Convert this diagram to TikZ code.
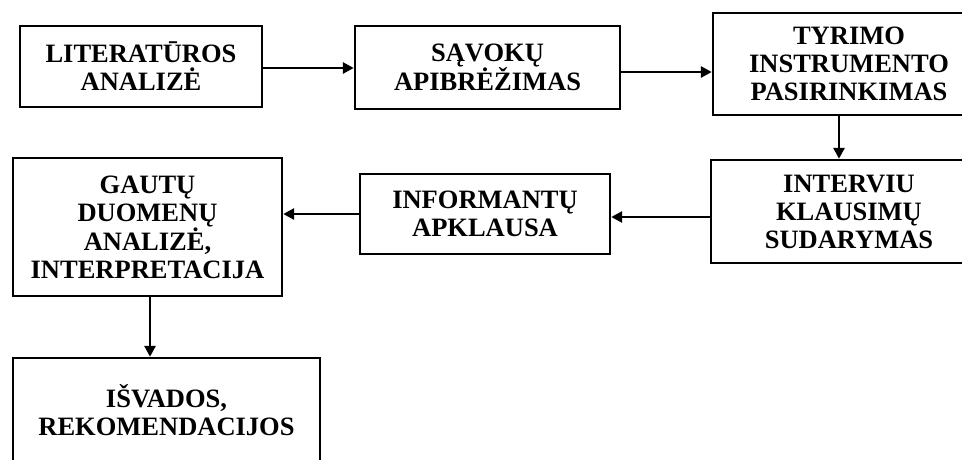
\documentclass[tikz,border=0pt]{standalone}
\usepackage{fontspec}
\setmainfont{Liberation Serif}
\usetikzlibrary{arrows.meta}
\begin{document}
\begin{tikzpicture}[x=1pt,y=-1pt,
  stagebox/.style={draw=black,line width=2.4pt,fill=white,inner sep=0pt,align=center,
    font=\bfseries\fontsize{26.5}{28}\selectfont},
  arr/.style={line width=2.8pt,-{Triangle[length=11pt,width=11pt]}}]
\useasboundingbox (0,0) rectangle (962,459);
\node[stagebox,minimum width=242pt,minimum height=81pt] (b1) at (141,66.5) {LITERATŪROS\\ANALIZĖ};
\node[stagebox,minimum width=265pt,minimum height=83pt] (b2) at (487.5,67.5) {SĄVOKŲ\\APIBRĖŽIMAS};
\node[stagebox,minimum width=272pt,minimum height=102pt] (b3) at (849,64) {TYRIMO\\INSTRUMENTO\\PASIRINKIMAS};
\node[stagebox,minimum width=276pt,minimum height=103pt] (b4) at (849,211.5) {INTERVIU\\KLAUSIMŲ\\SUDARYMAS};
\node[stagebox,minimum width=250pt,minimum height=80pt] (b5) at (485,214) {INFORMANTŲ\\APKLAUSA};
\node[stagebox,minimum width=269pt,minimum height=138pt] (b6) at (147.5,227) {GAUTŲ\\DUOMENŲ\\ANALIZĖ,\\INTERPRETACIJA};
\node[stagebox,minimum width=307pt,minimum height=104pt] (b7) at (166.5,410) {IŠVADOS,\\REKOMENDACIJOS};
\draw[arr] ([yshift=-1.5pt]b1.east) -- ([yshift=-0.5pt]b2.west);
\draw[arr] ([yshift=-4.5pt]b2.east) -- ([yshift=-8pt]b3.west);
\draw[arr] ([xshift=-10pt]b3.south) -- ([xshift=-10pt]b4.north);
\draw[arr] ([yshift=-5.5pt]b4.west) -- ([yshift=-3pt]b5.east);
\draw[arr] (b5.west) -- ([yshift=13pt]b6.east);
\draw[arr] ([xshift=2.5pt]b6.south) -- ([xshift=-16.5pt]b7.north);
\end{tikzpicture}
\end{document}
